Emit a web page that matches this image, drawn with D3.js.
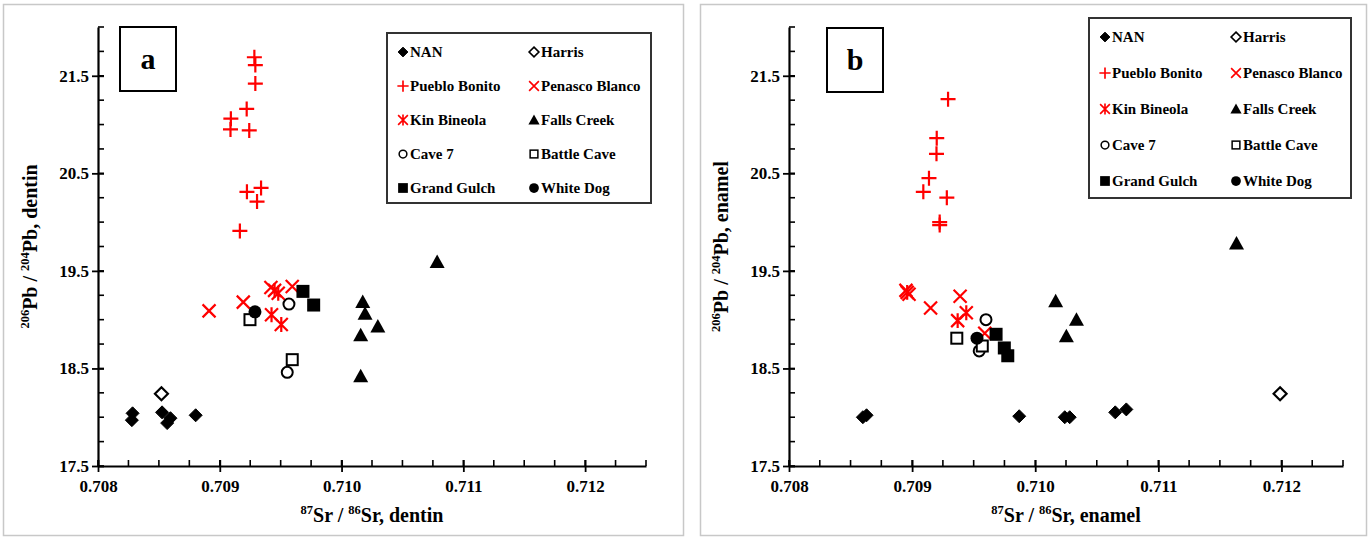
<!DOCTYPE html>
<html>
<head>
<meta charset="utf-8">
<script src="https://cdn.jsdelivr.net/npm/d3@7"></script>
<style>
  html, body { margin: 0; padding: 0; background: #fff; }
  svg { display: block; }
  text { font-family: "Liberation Serif", "Times New Roman", serif; font-weight: bold; fill: #000; }
</style>
</head>
<body>
<svg id="chart" width="1370" height="538"></svg>
<script>
// Axis ticks
const xTicks = [0.708, 0.709, 0.710, 0.711, 0.712];
const yTicks = [17.5, 18.5, 19.5, 20.5, 21.5];

// Group names, in legend order
const groups = ["NAN", "Harris", "Pueblo Bonito", "Penasco Blanco", "Kin Bineola",
                "Falls Creek", "Cave 7", "Battle Cave", "Grand Gulch", "White Dog"];

// Dentin: [87Sr/86Sr, 206Pb/204Pb]
const dentinNAN = [[0.708284, 18.04], [0.708278, 17.97], [0.708526, 18.05], [0.708595, 17.99], [0.708568, 17.94], [0.708802, 18.02]];
const dentinHarris = [[0.708521, 18.24]];
const dentinPuebloBonito = [[0.709284, 21.69], [0.709292, 21.61], [0.709292, 21.42], [0.709221, 21.16], [0.709091, 21.06], [0.709088, 20.95], [0.709242, 20.94], [0.709223, 20.31], [0.709339, 20.35], [0.709306, 20.21], [0.709165, 19.91]];
const dentinPenascoBlanco = [[0.708912, 19.09], [0.709193, 19.18], [0.709420, 19.33], [0.709595, 19.34]];
const dentinKinBineola = [[0.709450, 19.30], [0.709480, 19.27], [0.709425, 19.05], [0.709505, 18.95]];
const dentinFallsCreek = [[0.710785, 19.59], [0.710174, 19.18], [0.710193, 19.06], [0.710298, 18.93], [0.710157, 18.84], [0.710157, 18.42]];
const dentinCave7 = [[0.709568, 19.16], [0.709554, 18.46]];
const dentinBattleCave = [[0.709248, 19.00], [0.709595, 18.59]];
const dentinGrandGulch = [[0.709683, 19.29], [0.709771, 19.15]];
const dentinWhiteDog = [[0.709289, 19.08]];

// Enamel: [87Sr/86Sr, 206Pb/204Pb]
const enamelNAN = [[0.708600, 18.00], [0.708630, 18.02], [0.709870, 18.01], [0.710240, 18.00], [0.710280, 18.00], [0.710650, 18.05], [0.710740, 18.08]];
const enamelHarris = [[0.711989, 18.24]];
const enamelPuebloBonito = [[0.709292, 21.26], [0.709200, 20.86], [0.709198, 20.70], [0.709137, 20.45], [0.709091, 20.31], [0.709282, 20.25], [0.709224, 20.00], [0.709224, 19.97]];
const enamelPenascoBlanco = [[0.708950, 19.30], [0.708975, 19.26], [0.709150, 19.12], [0.709390, 19.24], [0.709590, 18.86]];
const enamelKinBineola = [[0.708960, 19.28], [0.709440, 19.07], [0.709370, 18.99]];
const enamelFallsCreek = [[0.711635, 19.78], [0.710166, 19.19], [0.710335, 19.00], [0.710253, 18.83]];
const enamelCave7 = [[0.709600, 19.00], [0.709545, 18.68]];
const enamelBattleCave = [[0.709363, 18.81], [0.709570, 18.73]];
const enamelGrandGulch = [[0.709682, 18.85], [0.709749, 18.71], [0.709777, 18.63]];
const enamelWhiteDog = [[0.709527, 18.81]];

const panels = [
  { id: "a", tissue: "dentin", left: 3, axisX: 98, axisEnd: 646, legendX: 387, legendY: 33, legendW: 264, legendH: 170, rowStep: 34,
    series: [dentinNAN, dentinHarris, dentinPuebloBonito, dentinPenascoBlanco, dentinKinBineola,
             dentinFallsCreek, dentinCave7, dentinBattleCave, dentinGrandGulch, dentinWhiteDog],
    letterBox: [120, 27, 56, 64] },
  { id: "b", tissue: "enamel", left: 700, axisX: 789, axisEnd: 1343, legendX: 1089, legendY: 18, legendW: 262, legendH: 180, rowStep: 36,
    series: [enamelNAN, enamelHarris, enamelPuebloBonito, enamelPenascoBlanco, enamelKinBineola,
             enamelFallsCreek, enamelCave7, enamelBattleCave, enamelGrandGulch, enamelWhiteDog],
    letterBox: [827, 28, 56, 64] }
];

const RED = "#ff0000";

// Marker drawing per group
function drawMarker(g, name, s) {
  const k = s || 1;
  switch (name) {
    case "NAN":
    case "Harris": {
      const r = 6.5 * k;
      g.append("path").attr("d", `M0,${-r}L${r},0L0,${r}L${-r},0Z`)
        .attr("fill", name === "NAN" ? "#000" : "#fff")
        .attr("stroke", "#000").attr("stroke-width", name === "NAN" ? 1 : 2.2 * k);
      break;
    }
    case "Pueblo Bonito": {
      const r = 7.5 * k;
      g.append("path").attr("d", `M${-r},0H${r}M0,${-r}V${r}`)
        .attr("stroke", RED).attr("stroke-width", 2.2 * k).attr("fill", "none");
      break;
    }
    case "Penasco Blanco": {
      const r = 6.5 * k;
      g.append("path").attr("d", `M${-r},${-r}L${r},${r}M${-r},${r}L${r},${-r}`)
        .attr("stroke", RED).attr("stroke-width", 2.2 * k).attr("fill", "none");
      break;
    }
    case "Kin Bineola": {
      const r = 6.5 * k;
      g.append("path").attr("d", `M${-r},${-r}L${r},${r}M${-r},${r}L${r},${-r}M0,${-r * 1.15}V${r * 1.15}`)
        .attr("stroke", RED).attr("stroke-width", 2.2 * k).attr("fill", "none");
      break;
    }
    case "Falls Creek": {
      const r = 7.5 * k;
      g.append("path").attr("d", `M0,${-r}L${r},${r * 0.8}L${-r},${r * 0.8}Z`).attr("fill", "#000");
      break;
    }
    case "Cave 7":
    case "White Dog": {
      const r = 6.5 * k;
      g.append("circle").attr("r", name === "Cave 7" ? r - 1 : r)
        .attr("fill", name === "Cave 7" ? "#fff" : "#000")
        .attr("stroke", "#000").attr("stroke-width", name === "Cave 7" ? 2 * k : 0);
      break;
    }
    case "Battle Cave":
    case "Grand Gulch": {
      const r = 6.5 * k;
      const open = name === "Battle Cave";
      const rr = open ? r - 1 : r;
      g.append("rect").attr("x", -rr).attr("y", -rr).attr("width", 2 * rr).attr("height", 2 * rr)
        .attr("fill", open ? "#fff" : "#000")
        .attr("stroke", "#000").attr("stroke-width", open ? 2 * k : 0);
      break;
    }
  }
}

const svg = d3.select("#chart");

panels.forEach(p => {
  // Panel frame
  svg.append("rect").attr("x", p.left + 0.5).attr("y", 4.5)
    .attr("width", p.id === "a" ? 680 : 666).attr("height", 531)
    .attr("fill", "none").attr("stroke", "#c8c8c8").attr("stroke-width", 1.5);

  const x = d3.scaleLinear().domain([0.708, 0.7125]).range([p.axisX, p.axisEnd]);
  const y = d3.scaleLinear().domain([17.5, 22]).range([466, 27]);

  const g = svg.append("g");

  // Minor ticks (inside) every 0.00025 / 0.25
  const xMinor = d3.range(0, 19).map(i => 0.708 + i * 0.00025);
  const yMinor = d3.range(0, 19).map(i => 17.5 + i * 0.25);
  g.selectAll(".xminor").data(xMinor).join("line")
    .attr("x1", d => x(d)).attr("x2", d => x(d)).attr("y1", 466).attr("y2", 460)
    .attr("stroke", "#000").attr("stroke-width", 1.6);
  g.selectAll(".yminor").data(yMinor).join("line")
    .attr("y1", d => y(d)).attr("y2", d => y(d)).attr("x1", p.axisX).attr("x2", p.axisX + 6)
    .attr("stroke", "#000").attr("stroke-width", 1.6);

  // Major axes via d3 axis generators
  const xAxis = d3.axisBottom(x).tickValues(xTicks).tickFormat(d3.format(".3f")).tickSize(6).tickSizeOuter(0);
  const yAxis = d3.axisLeft(y).tickValues(yTicks).tickFormat(d3.format(".1f")).tickSize(6).tickSizeOuter(0);

  const gx = g.append("g").attr("transform", "translate(0,466)").call(xAxis);
  gx.select(".domain").attr("stroke-width", 2.2);
  gx.selectAll(".tick line").attr("stroke-width", 1.8).attr("y1", -6);
  gx.selectAll(".tick text").attr("font-size", 17).attr("font-family", "Liberation Serif")
    .attr("font-weight", "bold").attr("dy", "0.95em").attr("y", 10);

  const gy = g.append("g").attr("transform", `translate(${p.axisX},0)`).call(yAxis);
  gy.select(".domain").attr("stroke-width", 2.2);
  gy.selectAll(".tick line").attr("stroke-width", 1.8).attr("x1", 6);
  gy.selectAll(".tick text").attr("font-size", 17).attr("font-family", "Liberation Serif")
    .attr("font-weight", "bold").attr("x", -9);

  // Axis titles
  const xt = g.append("text").attr("x", (p.axisX + p.axisEnd) / 2).attr("y", 522)
    .attr("text-anchor", "middle").attr("font-size", 20);
  xt.append("tspan").text("87").attr("font-size", 12.5).attr("dy", -8);
  xt.append("tspan").text("Sr / ").attr("dy", 8);
  xt.append("tspan").text("86").attr("font-size", 12.5).attr("dy", -8);
  xt.append("tspan").text("Sr, " + p.tissue).attr("dy", 8);

  const yt = g.append("text")
    .attr("transform", `translate(${p.axisX - 61},${(466 + 27) / 2}) rotate(-90)`)
    .attr("text-anchor", "middle").attr("font-size", 20);
  yt.append("tspan").text("206").attr("font-size", 12.5).attr("dy", -8);
  yt.append("tspan").text("Pb / ").attr("dy", 8);
  yt.append("tspan").text("204").attr("font-size", 12.5).attr("dy", -8);
  yt.append("tspan").text("Pb, " + p.tissue).attr("dy", 8);

  // Panel letter box
  const [bx, by, bw, bh] = p.letterBox;
  g.append("rect").attr("x", bx).attr("y", by).attr("width", bw).attr("height", bh)
    .attr("fill", "#fff").attr("stroke", "#000").attr("stroke-width", 2);
  g.append("text").attr("x", bx + bw / 2).attr("y", by + bh / 2 + 10)
    .attr("text-anchor", "middle").attr("font-size", 30).text(p.id);

  // Legend
  const lg = g.append("g");
  lg.append("rect").attr("x", p.legendX).attr("y", p.legendY).attr("width", p.legendW).attr("height", p.legendH)
    .attr("fill", "#fff").attr("stroke", "#333").attr("stroke-width", 2);
  groups.forEach((name, i) => {
    const col = i % 2, row = Math.floor(i / 2);
    const mx = p.legendX + 16 + col * 131;
    const my = p.legendY + 19 + row * p.rowStep;
    const mg = lg.append("g").attr("transform", `translate(${mx},${my})`);
    drawMarker(mg, name, 0.75);
    lg.append("text").attr("x", mx + 7).attr("y", my + 5).attr("font-size", 15).text(name);
  });

  // Data points
  const pts = g.append("g");
  p.series.forEach((data, si) => {
    data.forEach(d => {
      const mg = pts.append("g").attr("transform", `translate(${x(d[0])},${y(d[1])})`);
      drawMarker(mg, groups[si], 1);
    });
  });
});
</script>
</body>
</html>
